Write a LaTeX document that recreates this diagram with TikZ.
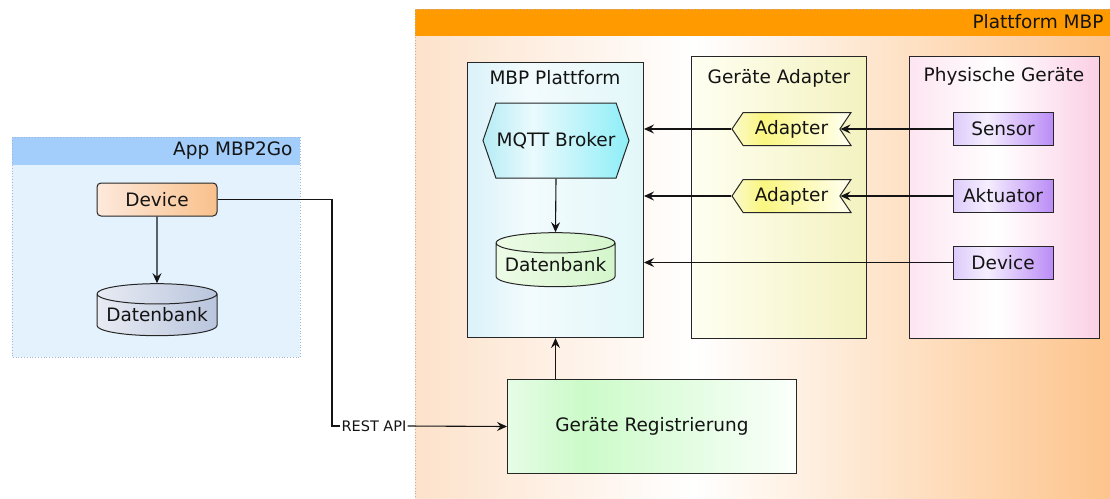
\documentclass[tikz,border=0pt]{standalone}
\usepackage{fontspec}
\setmainfont{DejaVu Sans}
\usetikzlibrary{shapes.geometric,shapes.symbols,arrows.meta,calc}

% palette
\definecolor{ink}{HTML}{141414}
\definecolor{edge}{HTML}{262626}
\definecolor{appHead}{HTML}{A3CDFB}
\definecolor{appBody}{HTML}{E4F2FE}
\definecolor{appRim}{HTML}{9FB6D2}
\definecolor{platHead}{HTML}{FF9A00}
\definecolor{platRim}{HTML}{BFB3A8}
\definecolor{platL}{HTML}{FDE2CB}
\definecolor{platR}{HTML}{FDC48C}
\definecolor{mbpL}{HTML}{D9F2F9}
\definecolor{mbpM}{HTML}{F3FBFD}
\definecolor{mbpR}{HTML}{E2F7F9}
\definecolor{hexL}{HTML}{B5ECF5}
\definecolor{hexM}{HTML}{EAFAFD}
\definecolor{hexR}{HTML}{8EEEF8}
\definecolor{yelL}{HTML}{FFFFF2}
\definecolor{yelR}{HTML}{F3F2C0}
\definecolor{adpL}{HTML}{FBF9CC}
\definecolor{adpM}{HTML}{FAF680}
\definecolor{adpR}{HTML}{FFFFF2}
\definecolor{pinkL}{HTML}{FDE5F1}
\definecolor{pinkR}{HTML}{FBCFE5}
\definecolor{purL}{HTML}{DDCBFA}
\definecolor{purM}{HTML}{F5EEFE}
\definecolor{purR}{HTML}{BB8CF6}
\definecolor{regL}{HTML}{E6FCE6}
\definecolor{regM}{HTML}{CCFBC9}
\definecolor{regR}{HTML}{FBFFFB}
\definecolor{devL}{HTML}{FDE9DC}
\definecolor{devR}{HTML}{F9C18C}
\definecolor{dbAL}{HTML}{E8EBF3}
\definecolor{dbAR}{HTML}{B9C5DD}
\definecolor{dbBL}{HTML}{EDFBE6}
\definecolor{dbBR}{HTML}{D4F6CC}

% multi-stop horizontal fills (TikZ maps 25bp..75bp onto the path)
\pgfdeclarehorizontalshading{platshade}{100bp}{color(0bp)=(platL); color(25bp)=(platL); color(45bp)=(white); color(75bp)=(platR); color(100bp)=(platR)}
\pgfdeclarehorizontalshading{mbpshade}{100bp}{color(0bp)=(mbpL); color(25bp)=(mbpL); color(42bp)=(mbpM); color(75bp)=(mbpR); color(100bp)=(mbpR)}
\pgfdeclarehorizontalshading{hexshade}{100bp}{color(0bp)=(hexL); color(25bp)=(hexL); color(42bp)=(hexM); color(75bp)=(hexR); color(100bp)=(hexR)}
\pgfdeclarehorizontalshading{adpshade}{100bp}{color(0bp)=(adpL); color(25bp)=(adpL); color(38bp)=(adpM); color(75bp)=(adpR); color(100bp)=(adpR)}
\pgfdeclarehorizontalshading{pinkshade}{100bp}{color(0bp)=(pinkL); color(25bp)=(pinkL); color(48bp)=(white); color(75bp)=(pinkR); color(100bp)=(pinkR)}
\pgfdeclarehorizontalshading{purshade}{100bp}{color(0bp)=(purL); color(25bp)=(purL); color(42bp)=(purM); color(75bp)=(purR); color(100bp)=(purR)}
\pgfdeclarehorizontalshading{regshade}{100bp}{color(0bp)=(regL); color(25bp)=(regL); color(38bp)=(regM); color(75bp)=(regR); color(100bp)=(regR)}

\tikzset{
  mainfont/.style={font=\fontsize{18.5}{22}\selectfont},
  smallfont/.style={font=\fontsize{14.5}{17}\selectfont},
  panel/.style={draw=edge, line width=1pt, anchor=north west, inner sep=0pt},
  itembox/.style={draw=edge, line width=1pt, inner sep=0pt, minimum height=33pt},
  dbshape/.style={cylinder, shape border rotate=90, draw=edge, line width=1pt,
    inner sep=0pt, aspect=0.2},
  adapterbox/.style={signal, signal to=west, signal from=east, signal pointer angle=112,
    draw=edge, line width=1pt, shading=adpshade, inner sep=0pt,
    minimum width=119pt, minimum height=33pt},
  conn/.style={draw=ink, line width=1.1pt, -{Stealth[length=10pt,width=9pt,inset=3.5pt]}},
  plain/.style={draw=ink, line width=1.1pt},
}

\begin{document}
\begin{tikzpicture}[x=1pt, y=-1pt, mainfont, text=ink]
\useasboundingbox (0,0) rectangle (1110,498);
\clip (0,0) rectangle (1110,498);

% ---- app container ----
\node[anchor=north west, inner sep=0pt, fill=appBody, minimum width=288pt, minimum height=220pt] (app) at (12,137) {};
\fill[appHead] (app.north west) rectangle ($(app.north east)+(0,28)$);
\draw[appRim, dotted, line width=0.8pt] (app.north west) rectangle (app.south east);
\node[anchor=east] (appT) at (296,151) {App MBP2Go};

% ---- platform container ----
\node[anchor=north west, inner sep=0pt, shading=platshade, minimum width=697pt, minimum height=500pt] (plat) at (415,9) {};
\fill[platHead] (plat.north west) rectangle ($(plat.north east)+(0,27)$);
\draw[platRim, dotted, line width=0.8pt] (plat.north west) rectangle (plat.south east);
\node[anchor=east] (platT) at (1107,22) {Plattform MBP};

% ---- columns inside the platform ----
\node[panel, shading=mbpshade, minimum width=176pt, minimum height=275pt] (mbp) at (467,62) {};
\node (mbpT) at (555,78) {MBP Plattform};
\node[panel, left color=yelL, right color=yelR, minimum width=175pt, minimum height=282pt] (ga) at (691,55.5) {};
\node (gaT) at (779,78) {Geräte Adapter};
\node[panel, shading=pinkshade, minimum width=190pt, minimum height=282pt] (pg) at (909,55.5) {};
\node (pgT) at (1004,76) {Physische Geräte};

% ---- platform internals ----
\node[signal, signal to=west and east, signal pointer angle=142, draw=edge, line width=1pt,
  shading=hexshade, inner sep=0pt, minimum width=146pt, minimum height=75pt] (mqtt) at (556,140.5) {MQTT Broker};
\node[dbshape, left color=dbBL, right color=dbBR, minimum width=119pt, minimum height=54pt] (dbB) at (555.5,265) {Datenbank};

\node[adapterbox] (adp1) at (791.5,129) {Adapter};
\node[adapterbox] (adp2) at (791.5,196) {Adapter};

\node[itembox, shading=purshade, minimum width=100pt] (sensor) at (1003,129) {Sensor};
\node[itembox, shading=purshade, minimum width=100pt] (akt) at (1003,196) {Aktuator};
\node[itembox, shading=purshade, minimum width=100pt] (devB) at (1003,262.5) {Device};

\node[panel, shading=regshade, minimum width=289pt, minimum height=94pt] (reg) at (507,379) {};
\node (regT) at (reg.center) {Geräte Registrierung};

% ---- app internals ----
\node[itembox, rounded corners=4pt, left color=devL, right color=devR, minimum width=120pt] (devA) at (157,199.5) {Device};
\node[dbshape, left color=dbAL, right color=dbAR, minimum width=120pt, minimum height=52pt] (dbA) at (157,315) {Datenbank};

% ---- connectors ----
\draw[conn] (devA.south) -- (dbA.north);
\draw[conn] (mqtt.south) -- (dbB.north);
\draw[conn] (sensor.west) -- (adp1.east);
\draw[conn] (akt.west) -- (adp2.east);
\draw[conn] (adp1.west) -- (mbp.east |- adp1.west);
\draw[conn] (adp2.west) -- (mbp.east |- adp2.west);
\draw[conn] (devB.west) -- (mbp.east |- devB.west);
\draw[conn] (reg.north -| mbp.south) -- (mbp.south);

\node[smallfont, inner sep=1pt] (rest) at (374,426) {REST API};
\coordinate (bend) at (332,426);
\draw[plain] (devA.east) -| (bend) -- (rest.west);
\draw[conn] (rest.east) -- (reg.west);
\end{tikzpicture}
\end{document}
